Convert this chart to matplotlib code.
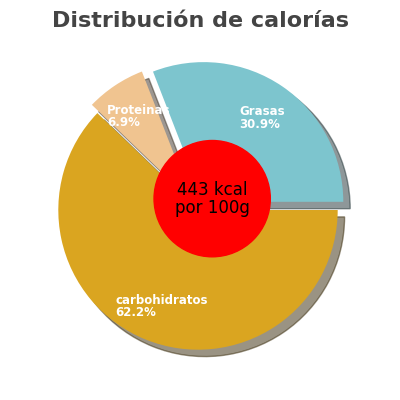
import matplotlib
matplotlib.use("Agg")
import matplotlib.pyplot as plt

labels = ["Grasas", "Proteinas", "carbohidratos"]
values = [30.9, 6.9, 62.2]
colors = ["#7DC5CE", "#F0C490", "#DAA520"]
explode = [0.07, 0.07, 0.0]

fig = plt.figure(figsize=(4, 4), dpi=100)
ax = fig.add_axes([0.105, 0.085, 0.78, 0.78])
wedges, _ = ax.pie(values, colors=colors, startangle=0, explode=explode, radius=0.985,
                   shadow={'ox': 0.035, 'oy': -0.035, 'shade': 0.75},
                   wedgeprops=dict(edgecolor='none'))
ax.set_xlim(-1.1, 1.1); ax.set_ylim(-1.1, 1.1)
ax.set_aspect('equal')
ax.text(0.29, 0.65, "Grasas\n30.9%", color="white", fontsize=8.5, fontweight="bold", va="center", ha="left", linespacing=0.95)
ax.text(-0.64, 0.66, "Proteinas\n6.9%", color="white", fontsize=8.5, fontweight="bold", va="center", ha="left", linespacing=0.95)
ax.text(-0.58, -0.68, "carbohidratos\n62.2%", color="white", fontsize=8.5, fontweight="bold", va="center", ha="left", linespacing=0.95)
ax.add_patch(plt.Circle((0.1, 0.08), 0.41, color="red", zorder=5))
ax.text(0.1, 0.08, "443 kcal\npor 100g", ha="center", va="center", fontsize=12, zorder=6, linespacing=1.0)
fig.text(0.5, 0.948, "Distribución de calorías", ha="center", va="center", fontsize=16, fontweight="bold", color="#444444")
fig.savefig("out.png")
